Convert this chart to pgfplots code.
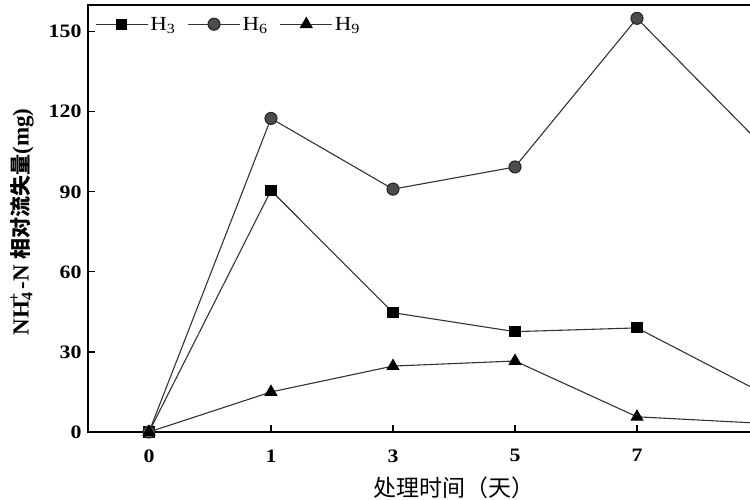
\documentclass[border=0pt]{standalone}
\usepackage{fontspec}
\setmainfont{Liberation Serif}[FakeStretch=1.15]
\newfontfamily\plainserif{Liberation Serif}
\newfontfamily\cjk{Noto Sans CJK SC}
\usepackage{pgfplots}
\pgfplotsset{compat=1.18}
\begin{document}
\begin{tikzpicture}
\path[use as bounding box] (-88pt,-68pt) rectangle (662pt,432pt);
\clip (-88pt,-68pt) rectangle (662pt,432pt);
\begin{axis}[
  at={(0pt,0pt)}, anchor=south west,
  scale only axis, width=732pt, height=427pt,
  xmin=-0.5, xmax=5.5, ymin=0, ymax=160,
  xtick={0,1,2,3,4,5}, xticklabels={0,1,3,5,7,{}},
  ytick={0,30,60,90,120,150},
  tick pos=left, major tick length=7pt,
  tick style={line width=1.2pt, black},
  axis line style={line width=1.6pt, black},
  /pgf/number format/assume math mode=true,
  ticklabel style={font=\bfseries\fontsize{19}{19}\selectfont},
  xticklabel style={yshift=-14pt},
  yticklabel style={xshift=-3pt},
  legend columns=3,
  legend style={draw=none, fill=none, at={(rel axis cs:0.0096,0.955)}, anchor=west,
    font=\fontsize{20}{20}\selectfont, inner xsep=0pt, inner ysep=0pt,
    nodes={inner sep=2pt},
    /tikz/every even column/.append style={column sep=10pt}},
  legend image code/.code={\draw[mark repeat=2,mark phase=2,#1] plot coordinates {(0pt,0pt) (26pt,0pt) (52pt,0pt)};},
  every axis plot/.append style={line width=1.1pt, color=black!80},
]
\addplot[mark=square*, mark size=5pt, mark options={fill=black, draw=black}] coordinates {
  (0,0) (1,90.5) (2,44.7) (3,37.6) (4,39) (5,15.3)};
\addlegendentry{H\textsubscript{3}}
\addplot[mark=*, mark size=6pt, mark options={fill=black!70, draw=black!85}] coordinates {
  (0,0) (1,117.5) (2,91) (3,99.3) (4,155) (5,108.6)};
\addlegendentry{H\textsubscript{6}}
\addplot[mark=triangle*, mark size=6.5pt, mark options={fill=black, draw=black}] coordinates {
  (0,0) (1,15) (2,24.7) (3,26.6) (4,5.7) (5,3.3)};
\addlegendentry{H\textsubscript{9}}
\end{axis}
\node[rotate=90, font=\plainserif\bfseries\fontsize{23}{23}\selectfont] at (-66pt,210pt)
  {NH\textsubscript{4}\kern-0.45em\textsuperscript{+}\kern0.15em-N\ {\cjk\bfseries\fontsize{21}{21}\selectfont 相对流失量}(mg)};
\node[font=\cjk\fontsize{23}{23}\selectfont] at (366pt,-56pt) {处理时间（天）};
\end{tikzpicture}
\end{document}
